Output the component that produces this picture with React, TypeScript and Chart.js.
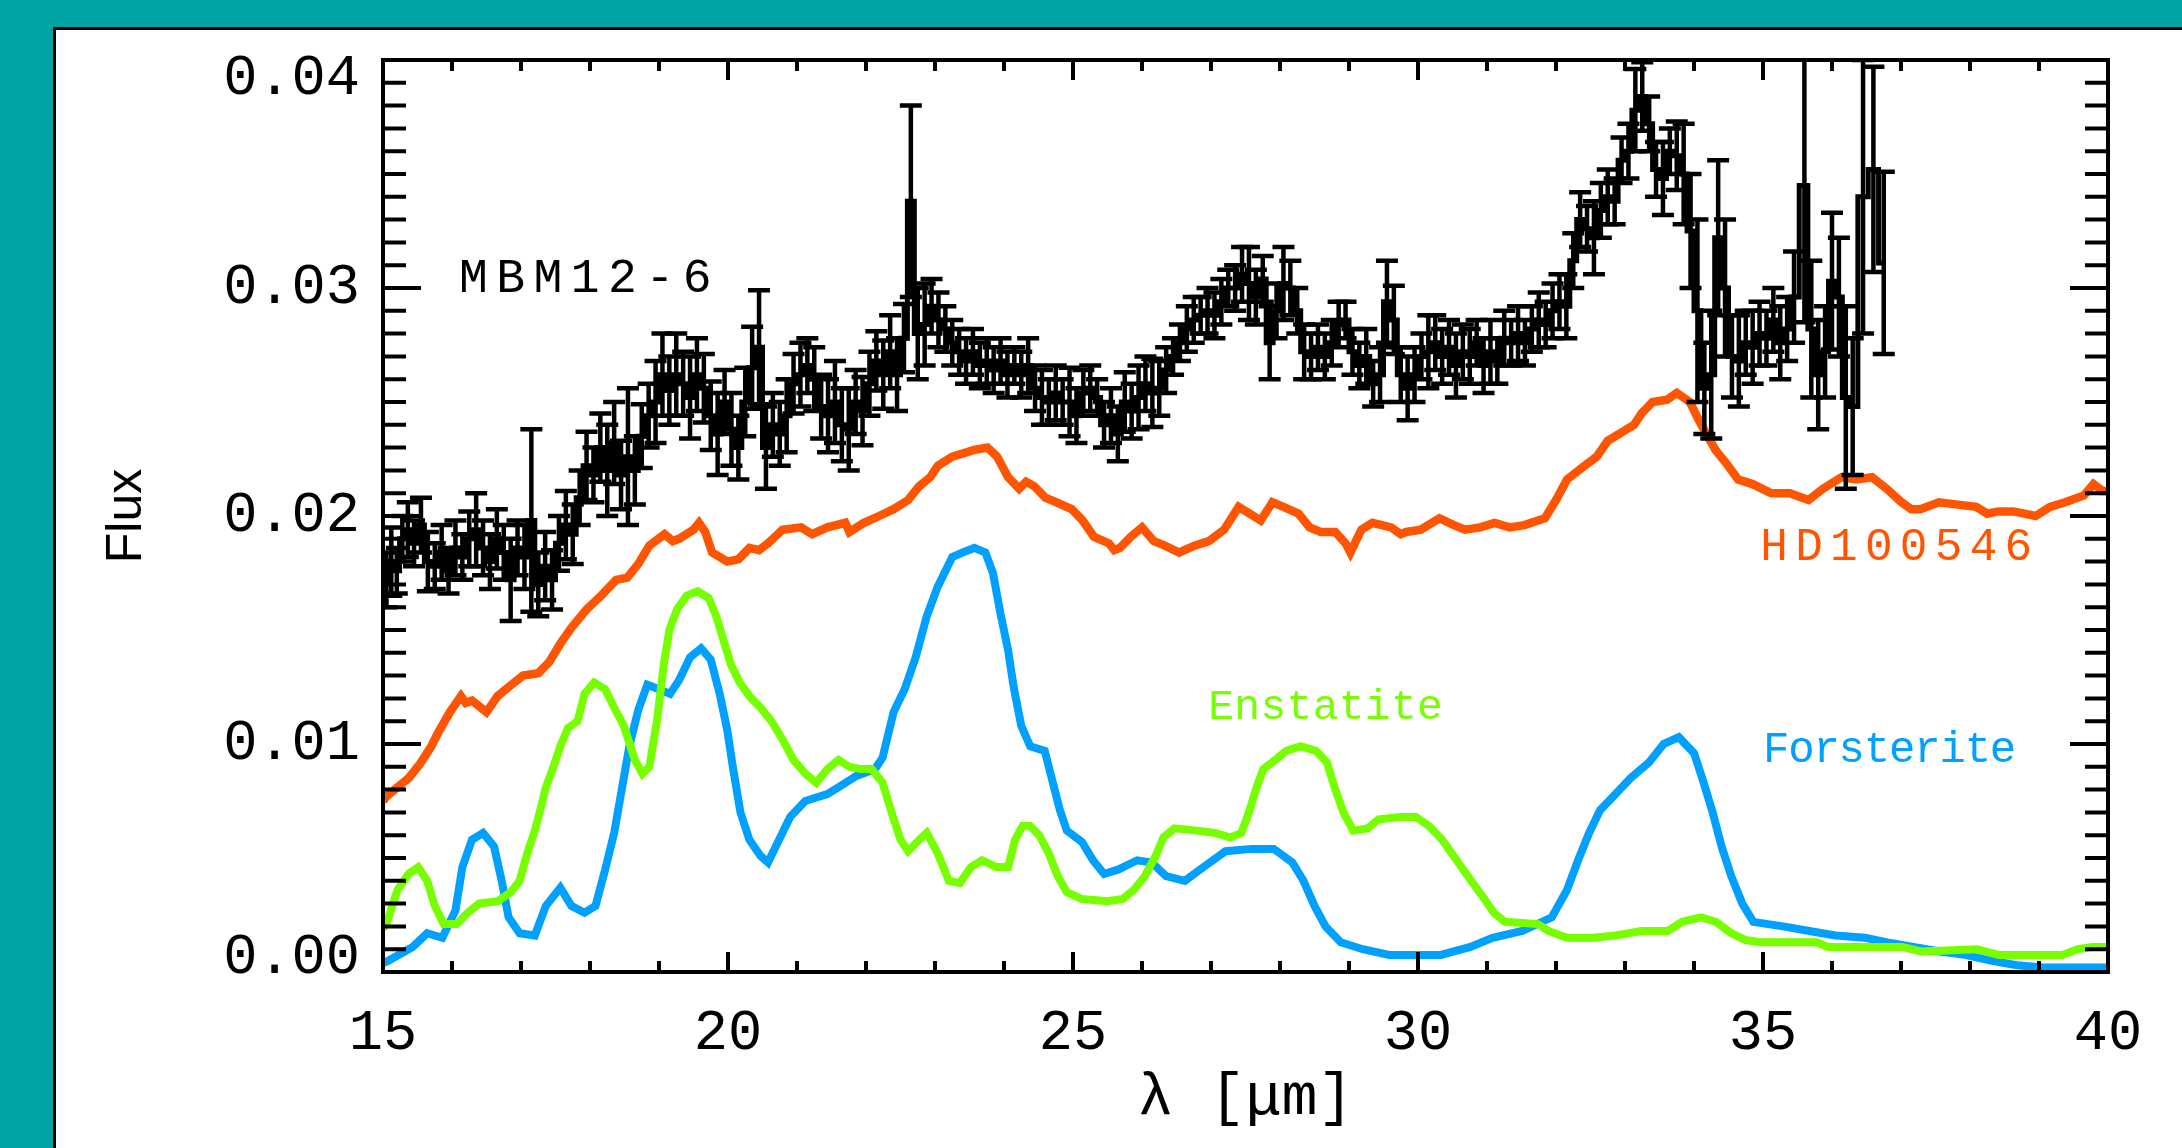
import React, { useEffect, useRef } from 'react';
import { Chart, registerables } from 'chart.js';

Chart.register(...registerables);

// ---------- data ----------
const xTicks = [15, 20, 25, 30, 35, 40];
const yTicks = [0, 0.01, 0.02, 0.03, 0.04];

// MBM12-6 : [lambda, flux, error]
const mbm12: number[][] = [
  [15.05, 0.0172, 0.0012], [15.12, 0.018, 0.0015], [15.2, 0.0176, 0.001], [15.28, 0.019, 0.001],
  [15.36, 0.0194, 0.0012], [15.45, 0.0188, 0.001], [15.55, 0.0196, 0.0012], [15.65, 0.018, 0.0013],
  [15.75, 0.0178, 0.001], [15.85, 0.0184, 0.0012], [15.95, 0.0176, 0.001], [16.05, 0.0186, 0.0012],
  [16.15, 0.0182, 0.001], [16.25, 0.019, 0.0012], [16.35, 0.0194, 0.0016], [16.45, 0.0186, 0.0012],
  [16.55, 0.018, 0.0012], [16.65, 0.019, 0.0013], [16.75, 0.0184, 0.0012], [16.85, 0.0172, 0.0018],
  [16.95, 0.0186, 0.0012], [17.05, 0.0182, 0.0014], [17.15, 0.0198, 0.004], [17.25, 0.017, 0.0014],
  [17.35, 0.0178, 0.0015], [17.45, 0.0172, 0.0013], [17.55, 0.0188, 0.0012], [17.65, 0.0196, 0.0015],
  [17.75, 0.0192, 0.0013], [17.85, 0.0208, 0.0012], [17.95, 0.0222, 0.0015], [18.05, 0.0218, 0.0012],
  [18.15, 0.023, 0.0015], [18.25, 0.022, 0.002], [18.35, 0.0232, 0.0018], [18.45, 0.0218, 0.0015],
  [18.55, 0.0226, 0.003], [18.65, 0.022, 0.0015], [18.75, 0.0235, 0.0014], [18.85, 0.0244, 0.0014],
  [18.95, 0.025, 0.0018], [19.05, 0.0262, 0.0018], [19.15, 0.0255, 0.0015], [19.25, 0.0262, 0.0018],
  [19.35, 0.0258, 0.0014], [19.45, 0.0252, 0.0018], [19.55, 0.0262, 0.0016], [19.65, 0.0256, 0.0015],
  [19.75, 0.0244, 0.0015], [19.85, 0.0236, 0.0018], [19.95, 0.025, 0.0014], [20.05, 0.0238, 0.0016],
  [20.15, 0.023, 0.0014], [20.25, 0.025, 0.0015], [20.35, 0.0265, 0.0018], [20.45, 0.0274, 0.0025],
  [20.55, 0.023, 0.0018], [20.65, 0.024, 0.0014], [20.75, 0.0236, 0.0014], [20.85, 0.0244, 0.0016],
  [20.95, 0.0258, 0.0013], [21.05, 0.0262, 0.0014], [21.15, 0.0266, 0.0012], [21.25, 0.026, 0.0014],
  [21.35, 0.0248, 0.0014], [21.45, 0.0244, 0.0016], [21.55, 0.025, 0.0018], [21.65, 0.024, 0.0016],
  [21.75, 0.0238, 0.0018], [21.85, 0.025, 0.0014], [21.95, 0.0246, 0.0015], [22.05, 0.0258, 0.0014],
  [22.15, 0.0268, 0.0013], [22.25, 0.0262, 0.0015], [22.35, 0.0272, 0.0016], [22.45, 0.0262, 0.0016],
  [22.55, 0.0278, 0.0015], [22.65, 0.0338, 0.0042], [22.75, 0.028, 0.002], [22.85, 0.0284, 0.0018],
  [22.95, 0.0292, 0.0012], [23.05, 0.0286, 0.0012], [23.15, 0.0282, 0.001], [23.25, 0.0276, 0.001],
  [23.35, 0.0272, 0.001], [23.45, 0.0268, 0.001], [23.55, 0.0272, 0.001], [23.65, 0.0266, 0.001],
  [23.75, 0.0268, 0.001], [23.85, 0.0264, 0.001], [23.95, 0.0268, 0.001], [24.05, 0.0262, 0.001],
  [24.15, 0.0266, 0.0008], [24.25, 0.0262, 0.001], [24.35, 0.0266, 0.0012], [24.45, 0.0256, 0.001],
  [24.55, 0.0252, 0.0012], [24.65, 0.025, 0.001], [24.75, 0.0254, 0.0012], [24.85, 0.025, 0.001],
  [24.95, 0.025, 0.0015], [25.05, 0.0244, 0.0012], [25.15, 0.0254, 0.001], [25.25, 0.0256, 0.001],
  [25.35, 0.0252, 0.0008], [25.45, 0.024, 0.001], [25.55, 0.0244, 0.0012], [25.65, 0.0236, 0.0012],
  [25.75, 0.025, 0.0013], [25.85, 0.0246, 0.0012], [25.95, 0.0252, 0.0014], [26.05, 0.0258, 0.0012],
  [26.15, 0.0254, 0.0015], [26.25, 0.0256, 0.0012], [26.35, 0.0264, 0.001], [26.45, 0.027, 0.0008],
  [26.55, 0.0276, 0.0008], [26.65, 0.0282, 0.001], [26.75, 0.0286, 0.001], [26.85, 0.0288, 0.0008],
  [26.95, 0.029, 0.001], [27.05, 0.0288, 0.001], [27.15, 0.0294, 0.001], [27.25, 0.03, 0.0008],
  [27.35, 0.03, 0.001], [27.45, 0.0306, 0.0012], [27.55, 0.0302, 0.0016], [27.65, 0.0296, 0.0012],
  [27.75, 0.0304, 0.001], [27.85, 0.0276, 0.0016], [27.95, 0.029, 0.0012], [28.05, 0.0302, 0.0016],
  [28.15, 0.03, 0.0012], [28.25, 0.029, 0.001], [28.35, 0.0272, 0.0012], [28.45, 0.027, 0.001],
  [28.55, 0.0274, 0.001], [28.65, 0.027, 0.001], [28.75, 0.0276, 0.001], [28.85, 0.0284, 0.001],
  [28.95, 0.0286, 0.0008], [29.05, 0.0272, 0.001], [29.15, 0.0266, 0.001], [29.25, 0.027, 0.0012],
  [29.35, 0.0258, 0.001], [29.45, 0.0262, 0.0012], [29.55, 0.0294, 0.0018], [29.65, 0.0286, 0.0015],
  [29.75, 0.0262, 0.0012], [29.85, 0.0256, 0.0014], [29.95, 0.0262, 0.0012], [30.05, 0.027, 0.001],
  [30.15, 0.0272, 0.0016], [30.25, 0.0276, 0.0012], [30.35, 0.027, 0.0012], [30.45, 0.0274, 0.0012],
  [30.55, 0.0266, 0.0014], [30.65, 0.0272, 0.0012], [30.75, 0.027, 0.0012], [30.85, 0.0276, 0.001],
  [30.95, 0.0266, 0.0012], [31.05, 0.0272, 0.0014], [31.15, 0.0268, 0.001], [31.25, 0.0278, 0.0012],
  [31.35, 0.0276, 0.001], [31.45, 0.028, 0.0012], [31.55, 0.0276, 0.001], [31.65, 0.0282, 0.001],
  [31.75, 0.0286, 0.0012], [31.85, 0.0284, 0.001], [31.95, 0.029, 0.0012], [32.05, 0.0294, 0.0012],
  [32.15, 0.0292, 0.0014], [32.25, 0.0312, 0.0012], [32.35, 0.033, 0.0012], [32.45, 0.0326, 0.001],
  [32.55, 0.0322, 0.0016], [32.65, 0.0334, 0.0012], [32.75, 0.034, 0.0012], [32.85, 0.0338, 0.001],
  [32.95, 0.0356, 0.001], [33.05, 0.036, 0.0012], [33.15, 0.0378, 0.0018], [33.25, 0.0384, 0.0015],
  [33.35, 0.0372, 0.0012], [33.45, 0.0352, 0.0012], [33.55, 0.0348, 0.0016], [33.65, 0.036, 0.001],
  [33.75, 0.0358, 0.0015], [33.85, 0.035, 0.0022], [33.95, 0.0325, 0.0025], [34.05, 0.029, 0.004],
  [34.15, 0.0256, 0.002], [34.25, 0.0262, 0.0028], [34.35, 0.0322, 0.0034], [34.45, 0.03, 0.003],
  [34.55, 0.027, 0.0018], [34.65, 0.0268, 0.002], [34.75, 0.0276, 0.0014], [34.85, 0.0274, 0.0016],
  [34.95, 0.028, 0.0014], [35.05, 0.0278, 0.0012], [35.15, 0.0286, 0.0014], [35.25, 0.0276, 0.0016],
  [35.35, 0.0282, 0.0014], [35.45, 0.0296, 0.002], [35.6, 0.0345, 0.006], [35.7, 0.0282, 0.003],
  [35.8, 0.0262, 0.0024], [35.9, 0.0272, 0.002], [36.0, 0.0303, 0.003], [36.1, 0.0296, 0.0026],
  [36.2, 0.0252, 0.004], [36.3, 0.0248, 0.003], [36.45, 0.034, 0.006], [36.6, 0.0352, 0.0045],
  [36.75, 0.0311, 0.004],
];

const hd100546: number[][] = [
  [15.0, 0.0075], [15.05, 0.0077], [15.21, 0.0081], [15.37, 0.0085], [15.53, 0.0091], [15.7, 0.0099],
  [15.8, 0.0105], [15.97, 0.0114], [16.13, 0.0121], [16.2, 0.0118], [16.29, 0.0119], [16.5, 0.0114],
  [16.66, 0.0121], [16.82, 0.0125], [17.03, 0.013], [17.25, 0.0131], [17.41, 0.0136], [17.57, 0.0144],
  [17.73, 0.0151], [17.95, 0.0159], [18.16, 0.0165], [18.38, 0.0172], [18.54, 0.0173], [18.7, 0.0179],
  [18.86, 0.0187], [19.08, 0.0192], [19.2, 0.0189], [19.29, 0.019], [19.5, 0.0194], [19.58, 0.0197],
  [19.67, 0.0193], [19.77, 0.0184], [19.99, 0.018], [20.15, 0.0181], [20.31, 0.0186], [20.45, 0.0185],
  [20.58, 0.0188], [20.79, 0.0194], [21.06, 0.0195], [21.22, 0.0192], [21.44, 0.0195], [21.7, 0.0197],
  [21.76, 0.0193], [21.97, 0.0197], [22.19, 0.02], [22.4, 0.0203], [22.61, 0.0207], [22.77, 0.0213],
  [22.93, 0.0217], [23.04, 0.0222], [23.25, 0.0226], [23.57, 0.0229], [23.76, 0.023], [23.9, 0.0226],
  [24.06, 0.0217], [24.22, 0.0212], [24.32, 0.0215], [24.44, 0.0213], [24.6, 0.0208], [24.76, 0.0206],
  [24.98, 0.0203], [25.14, 0.0198], [25.3, 0.0191], [25.52, 0.0188], [25.6, 0.0185], [25.68, 0.0186],
  [25.84, 0.0191], [26.0, 0.0195], [26.17, 0.0189], [26.33, 0.0187], [26.54, 0.0184], [26.76, 0.0187],
  [26.97, 0.0189], [27.19, 0.0194], [27.4, 0.0204], [27.56, 0.0201], [27.72, 0.0198], [27.89, 0.0206],
  [28.05, 0.0204], [28.27, 0.0201], [28.43, 0.0195], [28.59, 0.0193], [28.8, 0.0193], [28.95, 0.0188],
  [29.02, 0.0184], [29.1, 0.0189], [29.18, 0.0194], [29.34, 0.0197], [29.61, 0.0195], [29.75, 0.0192],
  [29.83, 0.0193], [30.04, 0.0194], [30.31, 0.0199], [30.52, 0.0196], [30.68, 0.0194], [30.9, 0.0195],
  [31.11, 0.0197], [31.33, 0.0195], [31.54, 0.0196], [31.84, 0.0199], [32.0, 0.0207], [32.16, 0.0216],
  [32.37, 0.0221], [32.59, 0.0226], [32.75, 0.0233], [32.97, 0.0237], [33.13, 0.024], [33.24, 0.0245],
  [33.4, 0.025], [33.61, 0.0251], [33.75, 0.0254], [33.94, 0.025], [34.07, 0.0242], [34.18, 0.0236],
  [34.31, 0.0229], [34.47, 0.0223], [34.64, 0.0216], [34.85, 0.0214], [35.12, 0.021], [35.39, 0.021],
  [35.66, 0.0207], [35.87, 0.0212], [36.14, 0.0217], [36.36, 0.0216], [36.58, 0.0217], [36.79, 0.0212],
  [37.01, 0.0206], [37.15, 0.0203], [37.28, 0.0203], [37.55, 0.0206], [37.82, 0.0205], [38.09, 0.0204],
  [38.25, 0.0201], [38.41, 0.0202], [38.63, 0.0202], [38.95, 0.02], [39.16, 0.0204], [39.38, 0.0206],
  [39.65, 0.0209], [39.79, 0.0214], [39.92, 0.0211], [40.0, 0.0211],
];

const enstatite: number[][] = [
  [15.0, 0.0019], [15.05, 0.0021], [15.21, 0.0036], [15.37, 0.0043], [15.51, 0.0046], [15.64, 0.004],
  [15.75, 0.0029], [15.88, 0.0021], [16.07, 0.0021], [16.23, 0.0026], [16.39, 0.003], [16.66, 0.0031],
  [16.85, 0.0035], [16.98, 0.004], [17.09, 0.0052], [17.2, 0.0062], [17.28, 0.0071], [17.36, 0.0081],
  [17.47, 0.009], [17.57, 0.0099], [17.68, 0.0107], [17.82, 0.011], [17.92, 0.0122], [18.06, 0.0127],
  [18.22, 0.0124], [18.35, 0.0116], [18.49, 0.0108], [18.65, 0.0093], [18.76, 0.0087], [18.86, 0.009],
  [18.97, 0.011], [19.07, 0.0135], [19.15, 0.015], [19.26, 0.0159], [19.4, 0.0165], [19.56, 0.0167],
  [19.72, 0.0164], [19.83, 0.0156], [19.93, 0.0146], [20.04, 0.0135], [20.17, 0.0127], [20.31, 0.0121],
  [20.47, 0.0116], [20.63, 0.011], [20.79, 0.0102], [20.95, 0.0093], [21.12, 0.0087], [21.28, 0.0083],
  [21.44, 0.0089], [21.6, 0.0093], [21.76, 0.009], [21.92, 0.0089], [22.08, 0.0089], [22.24, 0.0083],
  [22.37, 0.007], [22.5, 0.0058], [22.61, 0.0053], [22.77, 0.0058], [22.88, 0.0061], [23.04, 0.0052],
  [23.2, 0.004], [23.36, 0.0039], [23.52, 0.0046], [23.68, 0.0049], [23.89, 0.0046], [24.06, 0.0046],
  [24.16, 0.0058], [24.27, 0.0064], [24.38, 0.0064], [24.51, 0.006], [24.65, 0.0052], [24.78, 0.0042],
  [24.91, 0.0035], [25.13, 0.0032], [25.5, 0.0031], [25.72, 0.0032], [25.88, 0.0036], [26.04, 0.0042],
  [26.2, 0.0051], [26.31, 0.0059], [26.47, 0.0063], [26.79, 0.0062], [27.06, 0.0061], [27.28, 0.0059],
  [27.44, 0.0061], [27.55, 0.007], [27.66, 0.0081], [27.76, 0.0089], [27.93, 0.0093], [28.09, 0.0097],
  [28.3, 0.0099], [28.52, 0.0097], [28.68, 0.0092], [28.79, 0.0081], [28.92, 0.007], [29.06, 0.0062],
  [29.27, 0.0063], [29.43, 0.0067], [29.75, 0.0068], [29.97, 0.0068], [30.16, 0.0064], [30.35, 0.0058],
  [30.56, 0.0049], [30.77, 0.004], [30.94, 0.0033], [31.1, 0.0026], [31.26, 0.0022], [31.74, 0.0021],
  [31.89, 0.0018], [32.16, 0.0015], [32.53, 0.0015], [32.86, 0.0016], [33.24, 0.0018], [33.62, 0.0018],
  [33.83, 0.0022], [34.1, 0.0024], [34.32, 0.0022], [34.54, 0.0017], [34.75, 0.0014], [34.97, 0.0013],
  [35.78, 0.0013], [35.94, 0.0011], [37.02, 0.0011], [37.29, 0.0009], [38.1, 0.001], [38.42, 0.00075],
  [39.34, 0.00075], [39.56, 0.001], [39.77, 0.0011], [40.0, 0.0011],
];

const forsterite: number[][] = [
  [15.0, 0.0004], [15.05, 0.00045], [15.43, 0.0011], [15.64, 0.0017], [15.86, 0.0015], [16.05, 0.0027],
  [16.15, 0.0046], [16.29, 0.0058], [16.45, 0.0061], [16.61, 0.0055], [16.72, 0.004], [16.82, 0.0024],
  [16.98, 0.0017], [17.2, 0.0016], [17.36, 0.0029], [17.57, 0.0037], [17.73, 0.0029], [17.92, 0.0026],
  [18.08, 0.0029], [18.22, 0.0045], [18.35, 0.0061], [18.46, 0.008], [18.57, 0.0099], [18.7, 0.0115],
  [18.83, 0.0126], [19.0, 0.0124], [19.16, 0.0122], [19.29, 0.0128], [19.45, 0.0138], [19.61, 0.0142],
  [19.75, 0.0137], [19.88, 0.0122], [19.99, 0.0106], [20.07, 0.009], [20.18, 0.007], [20.31, 0.0058],
  [20.47, 0.0051], [20.58, 0.0048], [20.74, 0.0058], [20.9, 0.0068], [21.12, 0.0075], [21.44, 0.0078],
  [21.65, 0.0082], [21.86, 0.0086], [22.13, 0.0089], [22.24, 0.0094], [22.4, 0.0114], [22.56, 0.0124],
  [22.72, 0.0138], [22.88, 0.0156], [23.04, 0.0169], [23.25, 0.0182], [23.4, 0.0184], [23.57, 0.0186],
  [23.73, 0.0184], [23.84, 0.0175], [23.95, 0.0157], [24.06, 0.0141], [24.14, 0.0125], [24.25, 0.0108],
  [24.38, 0.0099], [24.59, 0.0097], [24.7, 0.0084], [24.81, 0.0071], [24.91, 0.0062], [25.13, 0.0057],
  [25.29, 0.0049], [25.45, 0.0043], [25.66, 0.0045], [25.93, 0.0049], [26.14, 0.0048], [26.35, 0.0042],
  [26.62, 0.004], [26.89, 0.0046], [27.21, 0.0053], [27.59, 0.0054], [27.91, 0.0054], [28.18, 0.0048],
  [28.34, 0.004], [28.5, 0.0029], [28.66, 0.002], [28.88, 0.0013], [29.2, 0.001], [29.58, 0.00075],
  [30.33, 0.00075], [30.76, 0.0011], [31.08, 0.0015], [31.51, 0.0018], [31.94, 0.0024], [32.16, 0.0036],
  [32.32, 0.0049], [32.48, 0.0061], [32.64, 0.0071], [32.86, 0.0078], [33.08, 0.0085], [33.35, 0.0092],
  [33.56, 0.01], [33.78, 0.0103], [34.0, 0.0096], [34.13, 0.0084], [34.27, 0.007], [34.4, 0.0055],
  [34.54, 0.0042], [34.7, 0.003], [34.86, 0.0022], [35.29, 0.002], [35.67, 0.0018], [36.05, 0.0016],
  [36.48, 0.0015], [36.8, 0.0013], [37.18, 0.0011], [37.56, 0.0009], [37.93, 0.00075], [38.3, 0.0005],
  [38.68, 0.0003], [39.06, 0.0002], [40.0, 0.0002],
];

// text labels placed in data coordinates: [lambda, flux]
const labelTexts = ['MBM12-6', 'HD100546', 'Enstatite', 'Forsterite'];
const labelAnchors: number[][] = [[16.1, 0.0304], [34.96, 0.0186], [26.96, 0.0116], [35.0, 0.0097]];
const labelColors = ['#000000', '#FF5500', '#77FF00', '#00A0FF'];

// ---------- styles ----------
const W = 2182;
const H = 1148;
const TEAL = '#00A4A4';
const MONO = '"Liberation Mono", "DejaVu Sans Mono", monospace';
const SANS = '"Liberation Sans", Arial, sans-serif';

const labelFonts = [
  { size: 48, spacing: 8.5 },
  { size: 46, spacing: 7.3 },
  { size: 43, spacing: 0.3 },
  { size: 44, spacing: -1.2 },
];

const toXY = (arr: number[][]) => arr.map((p) => ({ x: p[0], y: p[1] }));

const backgroundPlugin = {
  id: 'panelBackground',
  beforeDraw(chart: any) {
    const ctx = chart.ctx;
    ctx.save();
    ctx.fillStyle = TEAL;
    ctx.fillRect(0, 0, W, H);
    ctx.fillStyle = '#000';
    ctx.fillRect(53, 27, W - 53, H - 27);
    ctx.fillStyle = '#fff';
    ctx.fillRect(56, 30, W - 56, H - 30);
    ctx.restore();
  },
};

const errorBarPlugin = {
  id: 'errorBars',
  afterDatasetsDraw(chart: any) {
    const { ctx, chartArea: a, scales } = chart;
    const xs = scales.x;
    const ys = scales.y;
    ctx.save();
    ctx.beginPath();
    ctx.rect(a.left, a.top, a.right - a.left, a.bottom - a.top);
    ctx.clip();
    ctx.strokeStyle = '#000';
    ctx.lineWidth = 4.5;
    ctx.lineCap = 'butt';
    for (const p of mbm12) {
      const px = xs.getPixelForValue(p[0]);
      const top = ys.getPixelForValue(p[1] + p[2]);
      const bot = ys.getPixelForValue(p[1] - p[2]);
      ctx.beginPath();
      ctx.moveTo(px, top);
      ctx.lineTo(px, bot);
      ctx.moveTo(px - 11, top);
      ctx.lineTo(px + 11, top);
      ctx.moveTo(px - 11, bot);
      ctx.lineTo(px + 11, bot);
      ctx.stroke();
    }
    ctx.restore();
  },
};

const framePlugin = {
  id: 'frameAndTicks',
  afterDraw(chart: any) {
    const { ctx, chartArea: a, scales } = chart;
    const xs = scales.x;
    const ys = scales.y;
    ctx.save();
    ctx.strokeStyle = '#000';
    ctx.lineWidth = 4;
    ctx.strokeRect(a.left, a.top, a.right - a.left, a.bottom - a.top);
    ctx.beginPath();
    // x minor/major ticks (every 1 micron), bottom and top
    for (let v = xs.min; v <= xs.max + 1e-9; v += 1) {
      const px = xs.getPixelForValue(v);
      const major = Math.abs(v / 5 - Math.round(v / 5)) < 1e-6;
      const len = major ? 20 : 11;
      ctx.moveTo(px, a.bottom);
      ctx.lineTo(px, a.bottom - len);
      ctx.moveTo(px, a.top);
      ctx.lineTo(px, a.top + len);
    }
    // y minor/major ticks (every 0.001), left and right
    for (let i = 0; i <= 40; i++) {
      const v = i * 0.001;
      const py = ys.getPixelForValue(v);
      const major = i % 10 === 0;
      const len = major ? 38 : 23;
      ctx.moveTo(a.left, py);
      ctx.lineTo(a.left + len, py);
      ctx.moveTo(a.right, py);
      ctx.lineTo(a.right - len, py);
    }
    ctx.stroke();

    // y tick labels, kept inside the axis range as in the original
    ctx.fillStyle = '#000';
    ctx.font = `57px ${MONO}`;
    ctx.textAlign = 'right';
    ctx.textBaseline = 'middle';
    for (const t of ys.ticks) {
      let py = ys.getPixelForValue(t.value);
      py = Math.min(Math.max(py, a.top + 19), a.bottom - 14);
      ctx.fillText(Number(t.value).toFixed(2), a.left - 23, py);
    }

    // series labels
    ctx.textAlign = 'left';
    labelTexts.forEach((t, i) => {
      const f = labelFonts[i];
      ctx.font = `${f.size}px ${MONO}`;
      (ctx as any).letterSpacing = `${f.spacing}px`;
      ctx.fillStyle = labelColors[i];
      ctx.fillText(t, xs.getPixelForValue(labelAnchors[i][0]), ys.getPixelForValue(labelAnchors[i][1]));
    });
    (ctx as any).letterSpacing = '0px';
    ctx.restore();
  },
};

export default function App() {
  const ref = useRef<HTMLCanvasElement>(null);

  useEffect(() => {
    document.body.style.margin = '0';
    const canvas = ref.current;
    if (!canvas) return;
    const chart = new Chart(canvas, {
      type: 'line',
      data: {
        datasets: [
          {
            label: 'MBM12-6',
            data: toXY(mbm12),
            borderColor: '#000',
            borderWidth: 5,
            stepped: 'middle',
            pointRadius: 0,
            fill: false,
          },
          {
            label: 'HD100546',
            data: toXY(hd100546),
            borderColor: '#FF5500',
            borderWidth: 8.5,
            pointRadius: 0,
            fill: false,
          },
          {
            label: 'Enstatite',
            data: toXY(enstatite),
            borderColor: '#77FF00',
            borderWidth: 8,
            pointRadius: 0,
            fill: false,
          },
          {
            label: 'Forsterite',
            data: toXY(forsterite),
            borderColor: '#00A0FF',
            borderWidth: 8,
            pointRadius: 0,
            fill: false,
          },
        ],
      },
      options: {
        responsive: false,
        animation: false,
        devicePixelRatio: 1,
        layout: { padding: { left: 0, top: 60, right: 74, bottom: 0 } },
        plugins: { legend: { display: false }, tooltip: { enabled: false } },
        elements: { line: { tension: 0, borderJoinStyle: 'miter' } },
        scales: {
          x: {
            type: 'linear',
            min: 15,
            max: 40,
            afterFit: (s: any) => { s.height = 176; },
            afterBuildTicks: (s: any) => { s.ticks = xTicks.map((v) => ({ value: v })); },
            grid: { display: false, drawTicks: false },
            border: { display: false },
            ticks: {
              autoSkip: false,
              maxRotation: 0,
              padding: 28,
              color: '#000',
              font: { family: MONO, size: 57 },
              callback: (v: any) => String(v),
            },
            title: {
              display: true,
              text: 'λ [μm]',
              color: '#000',
              font: { family: MONO, size: 60 },
              padding: { top: 0, bottom: 14 },
            },
          },
          y: {
            type: 'linear',
            min: 0,
            max: 0.04,
            afterFit: (s: any) => { s.width = 383; },
            afterBuildTicks: (s: any) => { s.ticks = yTicks.map((v) => ({ value: v })); },
            grid: { display: false, drawTicks: false },
            border: { display: false },
            ticks: { display: false },
            title: {
              display: true,
              text: 'Flux',
              color: '#000',
              font: { family: SANS, size: 50 },
              padding: { top: 97, bottom: 0 },
            },
          },
        },
      },
      plugins: [backgroundPlugin, errorBarPlugin, framePlugin],
    } as any);
    return () => chart.destroy();
  }, []);

  return (
    <div style={{ position: 'absolute', left: 0, top: 0, width: W, height: H }}>
      <canvas ref={ref} width={W} height={H} style={{ display: 'block', width: W, height: H }} />
    </div>
  );
}
